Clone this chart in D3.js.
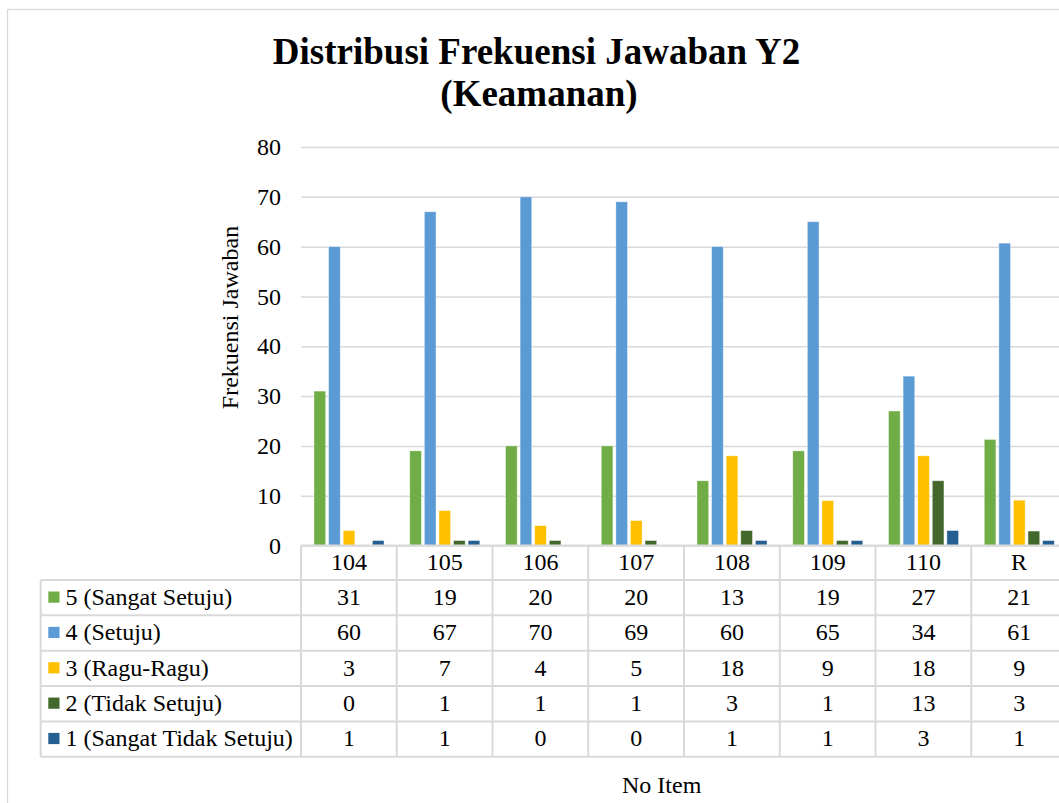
<!DOCTYPE html>
<html>
<head>
<meta charset="utf-8">
<script src="https://cdn.jsdelivr.net/npm/d3@7"></script>
<style>
  html, body { margin: 0; padding: 0; background: #fff; }
  svg { display: block; }
  text { font-family: "Liberation Serif", "Times New Roman", serif; fill: #000; }
</style>
</head>
<body>
<svg id="chart" width="1059" height="803"></svg>
<script>
// ---- data ----
const categories = ["104", "105", "106", "107", "108", "109", "110", "R"];
const seriesNames = ["5 (Sangat Setuju)", "4 (Setuju)", "3 (Ragu-Ragu)", "2 (Tidak Setuju)", "1 (Sangat Tidak Setuju)"];
const seriesColors = ["#70AD47", "#5B9BD5", "#FFC000", "#43682B", "#255E91"];
const s5 = [31, 19, 20, 20, 13, 19, 27, 21.3];
const s4 = [60, 67, 70, 69, 60, 65, 34, 60.7];
const s3 = [3, 7, 4, 5, 18, 9, 18, 9.1];
const s2 = [0, 1, 1, 1, 3, 1, 13, 2.9];
const s1 = [1, 1, 0, 0, 1, 1, 3, 1.0];
const yTicks = [0, 10, 20, 30, 40, 50, 60, 70, 80];
const titleLines = ["Distribusi Frekuensi Jawaban Y2", "(Keamanan)"];
const yTitle = "Frekuensi Jawaban";
const xTitle = "No Item";

const seriesValues = [s5, s4, s3, s2, s1];

// ---- layout ----
const svg = d3.select("#chart");
const plotLeft = 301, catW = 95.75;
const plotRight = plotLeft + catW * categories.length;
const yTop = 147, yBottom = 545.5;
const gridColor = "#d9d9d9";
const fs = 24;

// chart border
svg.append("rect")
  .attr("x", 7.5).attr("y", 9.5)
  .attr("width", 1200).attr("height", 900)
  .attr("fill", "none").attr("stroke", gridColor).attr("stroke-width", 1.3);

const x0 = d3.scaleBand().domain(categories).range([plotLeft, plotRight]).padding(0);
const x1 = d3.scaleBand().domain(seriesNames).range([13, catW - 12.7]).paddingInner(0.2);
const y = d3.scaleLinear().domain([0, 80]).range([yBottom, yTop]);

// gridlines + y labels
const yAxis = d3.axisLeft(y).tickValues(yTicks).tickSize(-(plotRight - plotLeft)).tickPadding(20);
const gy = svg.append("g").attr("transform", `translate(${plotLeft},0)`).call(yAxis);
gy.select(".domain").remove();
gy.selectAll(".tick line").attr("stroke", gridColor).attr("stroke-width", 1.5);
gy.selectAll(".tick text")
  .attr("font-family", "Liberation Serif, Times New Roman, serif")
  .attr("font-size", fs).attr("fill", "#000");

// bars
const groups = svg.append("g").selectAll("g")
  .data(categories)
  .join("g")
  .attr("transform", d => `translate(${x0(d)},0)`);

groups.selectAll("rect")
  .data((c, i) => seriesNames.map((s, k) => ({ s, k, v: seriesValues[k][i] })))
  .join("rect")
  .attr("x", d => x1(d.s))
  .attr("width", x1.bandwidth())
  .attr("y", d => y(d.v))
  .attr("height", d => y(0) - y(d.v))
  .attr("fill", d => seriesColors[d.k])
  .attr("stroke", "#ffffff")
  .attr("stroke-opacity", 0.5)
  .attr("stroke-width", 0.8);

// ---- data table ----
const tableLeft = 40.7;
const headerTop = yBottom, headerBottom = 580;
const rowH = 35.35;
const rowTops = seriesNames.map((s, i) => headerBottom + i * rowH);
const tableBottom = headerBottom + seriesNames.length * rowH;
const lineG = svg.append("g").attr("stroke", gridColor).attr("stroke-width", 2).attr("fill", "none");

lineG.append("line").attr("x1", plotLeft).attr("x2", plotRight).attr("y1", headerTop).attr("y2", headerTop);
[headerBottom, ...rowTops.slice(1), tableBottom].forEach(yy => {
  lineG.append("line").attr("x1", tableLeft).attr("x2", plotRight).attr("y1", yy).attr("y2", yy);
});
lineG.append("line").attr("x1", tableLeft).attr("x2", tableLeft).attr("y1", headerBottom).attr("y2", tableBottom);
categories.forEach(c => {
  lineG.append("line").attr("x1", x0(c)).attr("x2", x0(c)).attr("y1", headerTop).attr("y2", tableBottom);
});
lineG.append("line").attr("x1", plotRight).attr("x2", plotRight).attr("y1", headerTop).attr("y2", tableBottom);

// header labels
svg.append("g").selectAll("text")
  .data(categories)
  .join("text")
  .attr("x", d => x0(d) + catW / 2)
  .attr("y", headerTop + 24.5)
  .attr("text-anchor", "middle")
  .attr("font-size", fs)
  .text(d => d);

// rows
const fmt = d3.format(".0f");
const rows = svg.append("g").selectAll("g")
  .data(seriesNames)
  .join("g")
  .attr("transform", (d, i) => `translate(0,${rowTops[i]})`);

rows.append("rect")
  .attr("x", 48.3).attr("y", 11.5)
  .attr("width", 11.2).attr("height", 11.2)
  .attr("fill", (d, i) => seriesColors[i]);

rows.append("text")
  .attr("x", 65.5).attr("y", 25)
  .attr("font-size", fs)
  .text(d => d);

rows.each(function(s, k) {
  d3.select(this).selectAll("text.val")
    .data(categories.map((c, i) => ({ c, v: seriesValues[k][i] })))
    .join("text")
    .attr("class", "val")
    .attr("x", d => x0(d.c) + catW / 2)
    .attr("y", 25)
    .attr("text-anchor", "middle")
    .attr("font-size", fs)
    .text(d => fmt(d.v));
});

// titles
svg.append("text")
  .attr("x", 536.5).attr("y", 64)
  .attr("text-anchor", "middle")
  .attr("font-size", 37).attr("font-weight", "bold")
  .text(titleLines[0]);
svg.append("text")
  .attr("x", 539).attr("y", 105.5)
  .attr("text-anchor", "middle")
  .attr("font-size", 37).attr("font-weight", "bold")
  .text(titleLines[1]);

// axis titles
svg.append("text")
  .attr("transform", "translate(238,317.5) rotate(-90)")
  .attr("text-anchor", "middle")
  .attr("font-size", fs)
  .text(yTitle);

svg.append("text")
  .attr("x", 661.7).attr("y", 793)
  .attr("text-anchor", "middle")
  .attr("font-size", fs)
  .text(xTitle);
</script>
</body>
</html>
